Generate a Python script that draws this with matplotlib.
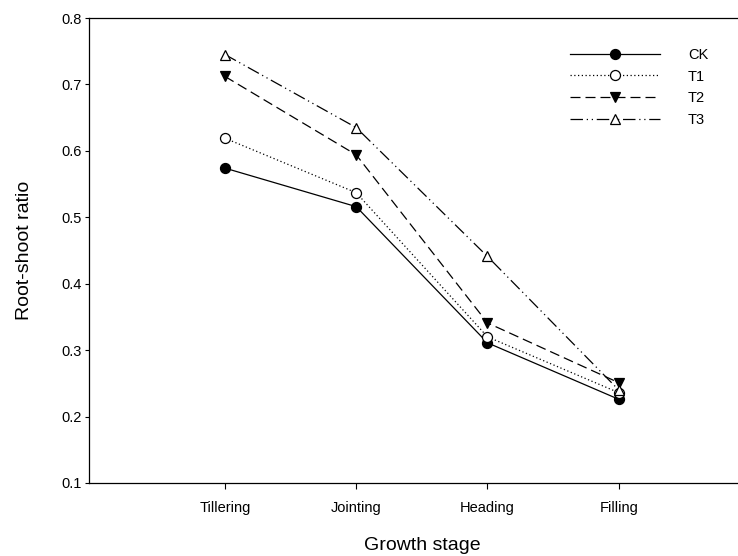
import matplotlib

matplotlib.use("Agg")
import matplotlib.pyplot as plt

plt.rcParams["font.family"] = ["Liberation Sans", "DejaVu Sans"]

STAGES = ["Tillering", "Jointing", "Heading", "Filling"]
X = [1, 2, 3, 4]

CK = [0.574, 0.516, 0.311, 0.226]
T1 = [0.619, 0.537, 0.320, 0.236]
T2 = [0.712, 0.594, 0.341, 0.251]
T3 = [0.745, 0.635, 0.441, 0.240]

fig = plt.figure(figsize=(7.38, 5.56), dpi=100)
# right spine falls just outside the canvas, like the cropped original
ax = fig.add_axes([89 / 738, 73 / 556, 661 / 738, 465 / 556])

series = [
    ("CK", CK, "o", "black", "-"),
    ("T1", T1, "o", "white", (0, (1, 2))),
    ("T2", T2, "v", "black", (0, (8, 4))),
    ("T3", T3, "^", "white", (0, (10, 3, 1, 3, 1, 3))),
]
for label, y, mk, mfc, ls in series:
    ax.plot(X, y, color="black", lw=0.9, ls=ls, marker=mk, ms=7.2,
            mfc=mfc, mec="black", mew=0.9, label=label)

ax.set_xlim(-0.036, 5)
ax.set_ylim(0.1, 0.8)
ax.set_xticks(X)
ax.set_xticklabels(STAGES)
ax.set_yticks([0.1, 0.2, 0.3, 0.4, 0.5, 0.6, 0.7, 0.8])
ax.tick_params(direction="out", width=0.8, labelsize=10.5)
ax.tick_params(axis="x", length=4, pad=9)
ax.tick_params(axis="y", length=3, pad=2)
for s in ax.spines.values():
    s.set_linewidth(0.9)

ax.set_xlabel("Growth stage", fontsize=14)
ax.set_ylabel("Root-shoot ratio", fontsize=14)
ax.xaxis.set_label_coords(0.504, -0.116)
ax.yaxis.set_label_coords(-0.085, 0.5)

ax.legend(loc="upper left", bbox_to_anchor=(570 / 738, 1 - 48 / 556),
          bbox_transform=fig.transFigure, frameon=False, fontsize=10.5,
          numpoints=1, handlelength=6.2, handletextpad=1.9,
          labelspacing=0.52, borderpad=0, borderaxespad=0)

fig.savefig("out.png", dpi=100)
